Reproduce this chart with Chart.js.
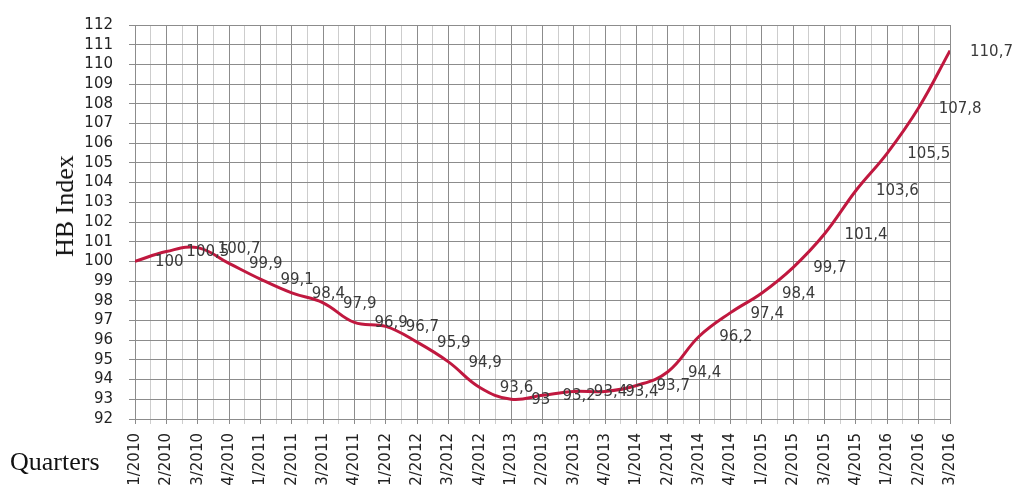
<!DOCTYPE html>
<html>
<head>
<meta charset="utf-8">
<script src="https://cdn.jsdelivr.net/npm/chart.js@4.4.1/dist/chart.umd.min.js"></script>
<style>
  html, body { margin: 0; padding: 0; background: #fff; }
  #wrap { position: relative; width: 1012px; height: 490px; }
  .title { position: absolute; font-family: "Liberation Serif", serif; font-size: 26px; color: #111; white-space: nowrap; }
  #ytitle { left: 65px; top: 206px; transform: translate(-50%, -50%) rotate(-90deg); }
  #xtitle { left: 10px; top: 447px; }
</style>
</head>
<body>
<div id="wrap">
  <canvas id="chart" width="1012" height="490"></canvas>
  <div class="title" id="ytitle">HB Index</div>
  <div class="title" id="xtitle">Quarters</div>
</div>
<script>
const quarters = [
  '1/2010', '2/2010', '3/2010', '4/2010',
  '1/2011', '2/2011', '3/2011', '4/2011',
  '1/2012', '2/2012', '3/2012', '4/2012',
  '1/2013', '2/2013', '3/2013', '4/2013',
  '1/2014', '2/2014', '3/2014', '4/2014',
  '1/2015', '2/2015', '3/2015', '4/2015',
  '1/2016', '2/2016', '3/2016'
];
const hbIndex = [
  100, 100.5, 100.7, 99.9,
  99.1, 98.4, 97.9, 96.9,
  96.7, 95.9, 94.9, 93.6,
  93, 93.2, 93.4, 93.4,
  93.7, 94.4, 96.2, 97.4,
  98.4, 99.7, 101.4, 103.6,
  105.5, 107.8, 110.7
];
const yMin = 92;
const yMax = 112;

// values next to each point, decimal comma
const pointLabels = {
  id: 'pointLabels',
  afterDatasetsDraw(chart) {
    const ctx = chart.ctx;
    const meta = chart.getDatasetMeta(0);
    ctx.save();
    ctx.font = '15px "DejaVu Sans", sans-serif';
    ctx.fillStyle = '#3a3a3a';
    ctx.textAlign = 'left';
    ctx.textBaseline = 'middle';
    meta.data.forEach((pt, i) => {
      const txt = String(hbIndex[i]).replace('.', ',');
      ctx.fillText(txt, pt.x + 20, pt.y + 1);
    });
    ctx.restore();
  }
};

new Chart(document.getElementById('chart'), {
  type: 'line',
  data: {
    datasets: [{
      data: hbIndex.map((v, i) => ({ x: i, y: v })),
      borderColor: '#c0183f',
      borderWidth: 3,
      pointRadius: 0,
      tension: 0.4,
      fill: false
    }]
  },
  options: {
    responsive: false,
    animation: false,
    devicePixelRatio: 1,
    layout: { padding: { top: 22, right: 62, left: 0, bottom: 0 } },
    plugins: { legend: { display: false }, tooltip: { enabled: false } },
    scales: {
      x: {
        type: 'linear',
        min: 0,
        max: quarters.length - 1,
        afterFit: (scale) => { scale.height = 71; },
        afterBuildTicks: (scale) => {
          const t = [];
          for (let v = 0; v <= quarters.length - 1; v += 0.5) t.push({ value: v });
          scale.ticks = t;
        },
        grid: {
          color: (c) => (c.tick && Number.isInteger(c.tick.value)) ? '#8c8c8c' : '#cdcdcd',
          tickLength: 5,
          lineWidth: 1
        },
        border: { color: '#8c8c8c' },
        ticks: {
          autoSkip: false,
          maxRotation: 90,
          minRotation: 90,
          padding: 9,
          color: '#222',
          font: { family: '"DejaVu Sans", sans-serif', size: 15 },
          callback: (v) => Number.isInteger(v) ? quarters[v] : ''
        }
      },
      y: {
        min: yMin,
        max: yMax,
        afterFit: (scale) => { scale.width = 135; },
        grid: { color: '#8c8c8c', tickLength: 6, lineWidth: 1 },
        border: { color: '#8c8c8c' },
        ticks: {
          stepSize: 1,
          autoSkip: false,
          padding: 16,
          color: '#222',
          font: { family: '"DejaVu Sans", sans-serif', size: 15 }
        }
      }
    }
  },
  plugins: [pointLabels]
});
</script>
</body>
</html>
